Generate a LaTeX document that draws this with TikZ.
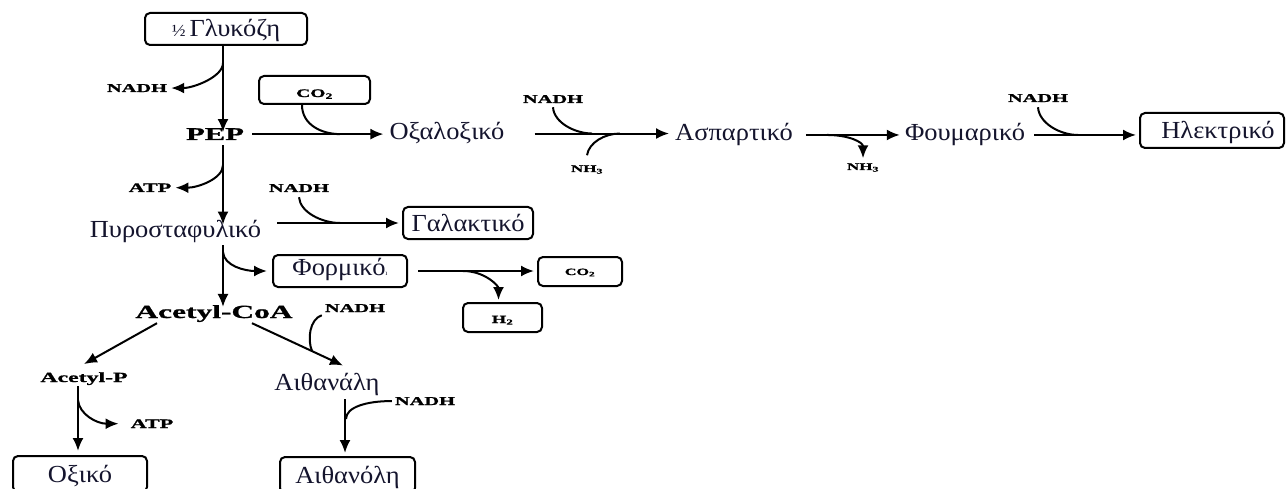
\documentclass[tikz,border=0pt]{standalone}
\usepackage{fontspec}
\setmainfont{Liberation Serif}
\newfontfamily\grfont[FakeStretch=1.08]{Liberation Serif}
\newfontfamily\labfont[FakeStretch=1.7,FakeBold=1.2]{Liberation Serif}
\usetikzlibrary{arrows.meta,calc}
\definecolor{grcol}{RGB}{20,20,45}

\tikzset{
  gr/.style={font=\grfont\fontsize{24.5}{28}\selectfont, text=grcol, inner sep=1pt},
  grt/.style={gr, anchor=base},
  lab/.style={font=\labfont\bfseries\fontsize{12}{14}\selectfont, inner sep=1pt, anchor=base},
  smalllab/.style={lab, font=\labfont\bfseries\fontsize{10}{12}\selectfont},
  atplab/.style={lab, font=\labfont\bfseries\fontsize{13}{15}\selectfont},
  biglab/.style={lab, font=\labfont\bfseries\fontsize{18}{20}\selectfont},
  box/.style={gr, draw, line width=2pt, rounded corners=5pt, inner sep=0pt,
              text height=17pt, text depth=1pt},
  ln/.style={line width=2pt},
  arr/.style={ln, -{Latex[length=13pt,width=11pt]}},
}

\begin{document}
\begin{tikzpicture}[x=1pt,y=-1pt]
\clip (0,0) rectangle (1287,489);
\fill[white] (0,0) rectangle (1287,489);

% ---- metabolite nodes ----
\node[box, minimum width=162pt, minimum height=32pt] (glc) at (226,29)
  {{\fontsize{17}{17}\selectfont ½}\,Γλυκόζη};
\node[lab] (nadh1) at (137,92) {NADH};
\node[box, minimum width=111pt, minimum height=28pt, text height=14pt, text depth=0pt,
      font=\labfont\bfseries\fontsize{11.5}{12}\selectfont, text=black] (co2a) at (314.5,90)
  {CO\textsubscript{2}\hspace{28pt}};
\node[biglab] (pep) at (215,140) {PEP};
\node[grt] (oxal) at (447,140) {Οξαλοξικό};
\node[lab] (nadh2) at (553,103) {NADH};
\node[smalllab] (nh3a) at (587,172) {NH\textsubscript{3}};
\node[grt] (asp) at (734,141) {Ασπαρτικό};
\node[smalllab] (nh3b) at (863,170) {NH\textsubscript{3}};
\node[grt] (fum) at (965,141) {Φουμαρικό};
\node[lab] (nadh3) at (1038,102) {NADH};
\node[box, minimum width=144pt, minimum height=35pt] (elec) at (1212,130.5)
  {\hspace{12pt}Ηλεκτρικό};

\node[atplab] (atp1) at (150,192) {ATP};
\node[grt] (pyro) at (175.5,237) {Πυροσταφυλικό};
\node[lab] (nadh4) at (299,192) {NADH};
\node[box, minimum width=130pt, minimum height=32pt] (gal) at (468,223) {Γαλακτικό};
\node[box, minimum width=134pt, minimum height=32pt, text depth=9pt] (form) at (340,271)
  {Φορμικό{\fontsize{7}{7}\selectfont ı}};
\node[box, minimum width=84pt, minimum height=29pt, text height=7pt, text depth=0pt,
      font=\labfont\bfseries\fontsize{9.5}{10}\selectfont, text=black] (co2b) at (580,271.5)
  {CO\textsubscript{2}};
\node[box, minimum width=79pt, minimum height=29pt, text height=11pt, text depth=0pt,
      font=\labfont\bfseries\fontsize{11}{11}\selectfont, text=black] (h2) at (502.5,317.5)
  {H\textsubscript{2}};

\node[biglab, font=\labfont\bfseries\fontsize{18.5}{20}\selectfont] (acoa) at (214,318) {Acetyl-CoA};
\node[lab] (nadh5) at (355,312) {NADH};
\node[lab, font=\labfont\bfseries\fontsize{14}{16}\selectfont] (acp) at (84,382) {Acetyl-P};
\node[grt] (ald) at (327,390) {Αιθανάλη};
\node[atplab] (atp2) at (152,428) {ATP};
\node[lab] (nadh6) at (425,405) {NADH};
\node[box, minimum width=134pt, minimum height=36pt] (oxik) at (80,474) {Οξικό\hspace{22pt}};
\node[box, minimum width=135pt, minimum height=36pt] (ethol) at (347.5,475) {Αιθανόλη};

% ---- helper points for trunks and junctions ----
\coordinate (mx) at (223,0);
\coordinate (ax) at (78,0);
\coordinate (ex) at (345,0);
\coordinate (j1) at (223,63);
\coordinate (j3) at (223,165);
\coordinate (j4) at (223,252);
\coordinate (j6) at (78,400);
\coordinate (j7) at (346,419);
\coordinate (m1) at (340,0 |- pep.east);
\coordinate (m2) at (592,0 |- oxal.east);
\coordinate (m3) at (620,0 |- oxal.east);
\coordinate (j2) at (827,0 |- asp.east);
\coordinate (m4) at (1078,0 |- fum.east);
\coordinate (m6) at (340,0 |- gal.west);
\coordinate (j5) at (463,0 |- form.east);
\coordinate (a20s) at ([xshift=-57pt]acoa.south);
\coordinate (a20e) at ([yshift=7pt]acp.north);
\coordinate (a21s) at ([xshift=38pt]acoa.south);
\coordinate (a21e) at ([xshift=16pt,yshift=6pt]ald.north);
\coordinate (m7) at ($(a21s)!0.66!(a21e)$);

% ---- glucose to PEP ----
\draw[arr, shorten >=-5pt] (glc.south -| mx) -- (pep.north -| mx);
\draw[arr] (j1) .. controls +(0,14) and +(22,0) .. ([xshift=3pt]nadh1.east);

% ---- PEP to succinate branch ----
\draw[arr, shorten <=7pt, shorten >=5pt] (pep.east) -- (pep.east -| oxal.west);
\draw[ln] ([xshift=-12.5pt]co2a.south) .. controls +(0,20) and +(-18,0) .. (m1);
\draw[arr, shorten <=29pt, shorten >=5pt] (oxal.east) -- (oxal.east -| asp.west);
\draw[ln] ([yshift=-3pt]nadh2.south) .. controls +(1,16) and +(-16,0) .. (m2);
\draw[ln] ([yshift=9pt]nh3a.north) .. controls +(2,-13) and +(-15,0) .. (m3);
\draw[arr, shorten <=12pt, shorten >=4pt] (asp.east) -- (asp.east -| fum.west);
\draw[arr] (j2) .. controls +(22,0) and +(0,-16) .. ([yshift=4pt]nh3b.north);
\draw[arr, shorten <=8pt, shorten >=3pt] (fum.east) -- (fum.east -| elec.west);
\draw[ln] ([yshift=-4pt]nadh3.south) .. controls +(1,16) and +(-18,0) .. (m4);

% ---- PEP to pyruvate ----
\draw[arr, shorten <=4pt, shorten >=-6pt] (pep.south -| mx) -- (pyro.north -| mx);
\draw[arr] (j3) .. controls +(0,14) and +(22,0) .. ([xshift=3pt]atp1.east);
\draw[arr, shorten <=15pt, shorten >=3pt] (gal.west -| pyro.east) -- (gal.west);
\draw[ln] ([yshift=-4pt]nadh4.south) .. controls +(1,15) and +(-18,0) .. (m6);

% ---- pyruvate to acetyl-CoA and formate ----
\draw[arr, shorten <=2pt, shorten >=-3pt] (pyro.south -| mx) -- (acoa.north -| mx);
\draw[arr] (j4) .. controls +(1,14) and +(-22,0) .. ([xshift=-5pt]form.west);
\draw[arr, shorten <=10pt, shorten >=3pt] (form.east) -- (form.east -| co2b.west);
\draw[arr] (j5) .. controls +(22,0) and +(0,-14) .. ([xshift=-4pt,yshift=2pt]h2.north);

% ---- acetyl-CoA branches ----
\draw[arr] (a20s) -- (a20e);
\draw[arr] (a21s) -- (a21e);
\draw[ln] ([xshift=-2pt,yshift=-2pt]nadh5.south west) .. controls +(-12,4) and +(-5,-12) .. (m7);
\draw[arr, shorten >=4pt] (acp.south -| ax) -- (oxik.north -| ax);
\draw[arr] (j6) .. controls +(1,14) and +(-22,0) .. ([xshift=-11pt]atp2.west);
\draw[arr, shorten <=3pt, shorten >=3pt] (ald.south -| ex) -- (ethol.north -| ex);
\draw[ln] ([xshift=-2pt]nadh6.west) .. controls +(-25,0) and +(0,-12) .. (j7);
\end{tikzpicture}
\end{document}
